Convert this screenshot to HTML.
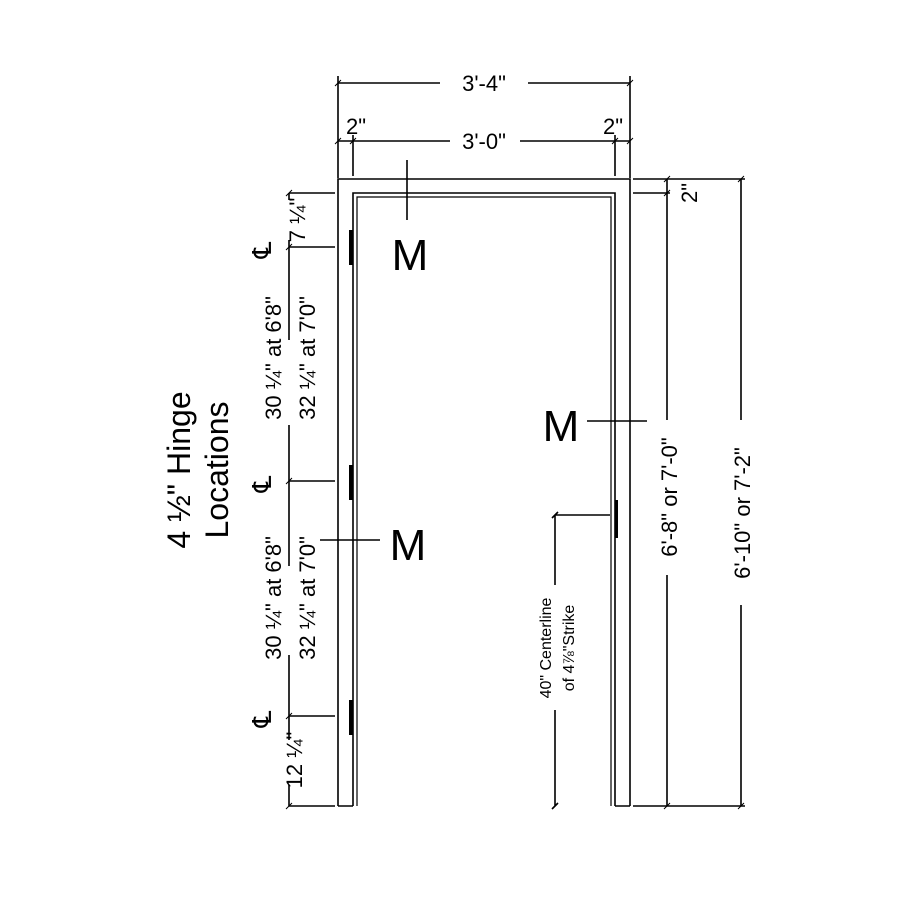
<!DOCTYPE html>
<html><head><style>body{margin:0;background:#fff}svg{display:block}</style></head><body>
<svg width="900" height="900" viewBox="0 0 900 900" xmlns="http://www.w3.org/2000/svg" font-family="Liberation Sans, sans-serif">
<g stroke="#000" stroke-width="1.6" fill="none">
<!-- frame -->
<path d="M338,806 V179 H630 V806 M338,806 H353 M615,806 H630"/>
<path d="M353,806 V193 H615 V806"/>
<path d="M357,806 V197 H611 V806" stroke-width="1.2"/>
<!-- top dims -->
<path d="M338,83 H440 M528,83 H630 M338,76 V178 M630,76 V178"/>
<path d="M338,141 H450 M520,141 H630 M353,135 V176 M615,135 V176"/>
<path d="M335,86 l6,-6 M627,86 l6,-6 M335,144 l6,-6 M350,144 l6,-6 M612,144 l6,-6 M627,144 l6,-6" stroke-width="1"/>
<!-- M top -->
<path d="M407,160 V220"/>
<!-- left dim -->
<path d="M289,193 V200 M289,240 V340 M289,425 V566 M289,655 V740 M289,785 V806"/>
<path d="M289,193 H335 M289,247 H335 M289,481 H335 M289,716 H335 M289,806 H335"/>
<path d="M286,196 l6,-6 M286,250 l6,-6 M286,484 l6,-6 M286,719 l6,-6 M286,809 l6,-6" stroke-width="1"/>
<!-- center M line -->
<path d="M320,540 H380"/>
<!-- right M line -->
<path d="M587,421 H647"/>
<!-- strike dim -->
<path d="M555,515 H610 M555,515 V585 M555,710 V806 M552,518 l6,-6 M552,809 l6,-6"/>
<!-- right dims -->
<path d="M633,193 H670 M633,806 H745 M667,179 V420 M667,575 V806 M741,179 V420 M741,605 V806 M633,179 H745"/>
<path d="M664,182 l6,-6 M664,196 l6,-6 M664,809 l6,-6 M738,182 l6,-6 M738,809 l6,-6" stroke-width="1"/>
</g>
<g fill="#000">
<rect x="349" y="230" width="4" height="35"/>
<rect x="349" y="465" width="4" height="35"/>
<rect x="349" y="700" width="4" height="35"/>
<rect x="615" y="500" width="3" height="38"/>
</g>
<g font-size="22" text-anchor="middle">
<text x="484" y="91">3'-4"</text>
<text x="484" y="149">3'-0"</text>
<text x="356" y="134">2"</text>
<text x="613" y="134">2"</text>
</g>
<g font-size="44" text-anchor="middle">
<text x="410" y="270">M</text>
<text x="408" y="560">M</text>
<text x="561" y="441">M</text>
</g>
<g font-size="26" text-anchor="middle">
<text transform="translate(271,250) rotate(-90)">℄</text>
<text transform="translate(271,484) rotate(-90)">℄</text>
<text transform="translate(271,719) rotate(-90)">℄</text>
</g>
<g font-size="22" text-anchor="middle">
<text transform="translate(305,220) rotate(-90)">7 ¼"</text>
<text transform="translate(281,358) rotate(-90)">30 ¼" at 6'8"</text>
<text transform="translate(315,358) rotate(-90)">32 ¼" at 7'0"</text>
<text transform="translate(281,598) rotate(-90)">30 ¼" at 6'8"</text>
<text transform="translate(315,598) rotate(-90)">32 ¼" at 7'0"</text>
<text transform="translate(302,760) rotate(-90)">12 ¼"</text>
<text transform="translate(697,193) rotate(-90)">2"</text>
<text transform="translate(677,497) rotate(-90)">6'-8" or 7'-0"</text>
<text transform="translate(750,513) rotate(-90)">6'-10" or 7'-2"</text>
</g>
<g font-size="16" text-anchor="middle">
<text transform="translate(551,648) rotate(-90)">40" Centerline</text>
<text transform="translate(574,648) rotate(-90)">of  4⅞"Strike</text>
</g>
<g font-size="32" text-anchor="middle">
<text transform="translate(190,470) rotate(-90)">4 ½" Hinge</text>
<text transform="translate(228,470) rotate(-90)">Locations</text>
</g>
</svg>
</body></html>
